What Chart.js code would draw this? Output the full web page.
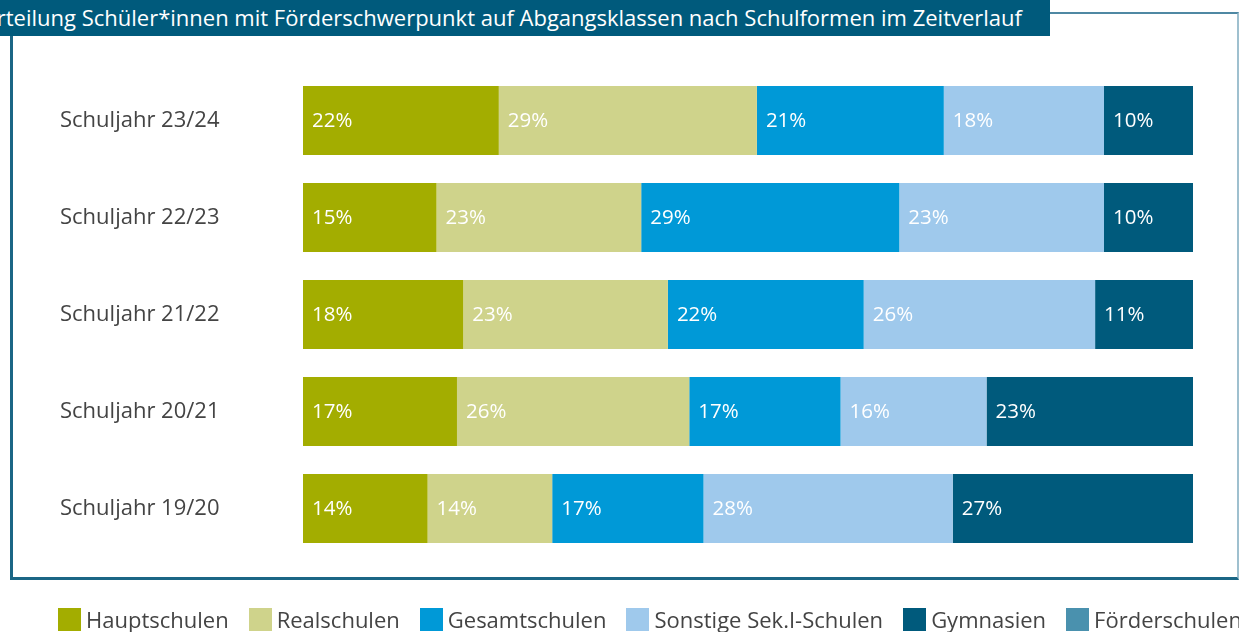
<!DOCTYPE html>
<html lang="de">
<head>
<meta charset="utf-8">
<script src="https://cdn.jsdelivr.net/npm/chart.js@4"></script>
<style>
  body { margin: 0; background: #fff; }
  #wrap { position: relative; width: 1239px; height: 632px; overflow: hidden; font-family: "Open Sans", sans-serif; }
  #frame { position: absolute; left: 10px; top: 12px; width: 1224px; height: 563px;
    border-left: 3px solid #1b6685; border-bottom: 3px solid #1b6685;
    border-top: 2px solid #4f88a3; border-right: 2px solid #9fc0cf; box-sizing: content-box; }
  #banner { position: absolute; left: 0; top: 0; width: 1050px; height: 36px; background: #005a7c;
    overflow: hidden; display: flex; justify-content: flex-end; align-items: center; }
  #banner span { color: #fff; font-size: 22px; white-space: nowrap; padding-right: 28px; margin-top: -2px; }
  #chart { position: absolute; left: 0; top: 0; }
  #legend { position: absolute; left: 58px; top: 604px; display: flex; white-space: nowrap; }
  #legend .item { display: flex; align-items: center; margin-right: 20px; font-size: 22px; color: #444; }
  #legend .box { width: 23px; height: 23px; margin-right: 5px; }
</style>
</head>
<body>
<div id="wrap">
  <div id="frame"></div>
  <canvas id="chart" width="1239" height="632"></canvas>
  <div id="banner"><span>Verteilung Schüler*innen mit Förderschwerpunkt auf Abgangsklassen nach Schulformen im Zeitverlauf</span></div>
  <div id="legend"></div>
</div>
<script>
let labels = ['Schuljahr 23/24','Schuljahr 22/23','Schuljahr 21/22','Schuljahr 20/21','Schuljahr 19/20'];
let seriesNames = ['Hauptschulen','Realschulen','Gesamtschulen','Sonstige Sek.I-Schulen','Gymnasien','Förderschulen'];
let colorHex = ['#a3ad00','#cfd38b','#0099d7','#9fc9ec','#005a7c','#4a91ae'];

let hauptschulen = [22, 15, 18, 17.3, 14];
let realschulen = [29, 23, 23, 26.1, 14];
let gesamtschulen = [21, 29, 22, 17, 17];
let sonstige = [18, 23, 26, 16.4, 28];
let gymnasien = [10, 10, 11, 23.2, 27];
let foerderschulen = [0, 0, 0, 0, 0];

let values = [hauptschulen, realschulen, gesamtschulen, sonstige, gymnasien, foerderschulen];

// white percent labels at the left of each segment
let segmentLabels = {
  id: 'segmentLabels',
  afterDatasetsDraw(chart) {
    let c = chart.ctx;
    c.save();
    c.fillStyle = '#fff';
    c.font = '20.5px "Open Sans"';
    c.textBaseline = 'middle';
    c.textAlign = 'left';
    chart.data.datasets.forEach((ds, i) => {
      chart.getDatasetMeta(i).data.forEach((bar, j) => {
        let v = ds.data[j];
        if (!v) return;
        c.fillText(Math.round(v) + '%', bar.base + 9, bar.y + 1);
      });
    });
    c.restore();
  }
};

let ctx = document.getElementById('chart').getContext('2d');
let myChart = new Chart(ctx, {
  type: 'bar',
  data: {
    labels: labels,
    datasets: values.map((d, i) => ({
      label: seriesNames[i],
      data: d,
      backgroundColor: colorHex[i],
      borderWidth: 0,
      barPercentage: 0.71,
      categoryPercentage: 1
    }))
  },
  options: {
    indexAxis: 'y',
    responsive: false,
    animation: false,
    layout: { padding: { left: 60, right: 46, top: 72, bottom: 75 } },
    scales: {
      x: { stacked: true, min: 0, max: 100, display: false },
      y: {
        stacked: true,
        grid: { display: false },
        border: { display: false },
        ticks: { crossAlign: 'far', color: '#444', font: { family: 'Open Sans', size: 22 } },
        afterFit(scale) { scale.width = 243; }
      }
    },
    plugins: {
      legend: { display: false },
      tooltip: { enabled: false }
    }
  },
  plugins: [segmentLabels]
});

let legend = document.getElementById('legend');
seriesNames.forEach((name, i) => {
  let item = document.createElement('div');
  item.className = 'item';
  item.innerHTML = '<span class="box" style="background:' + colorHex[i] + '"></span>' + name;
  legend.appendChild(item);
});
</script>
</body>
</html>
